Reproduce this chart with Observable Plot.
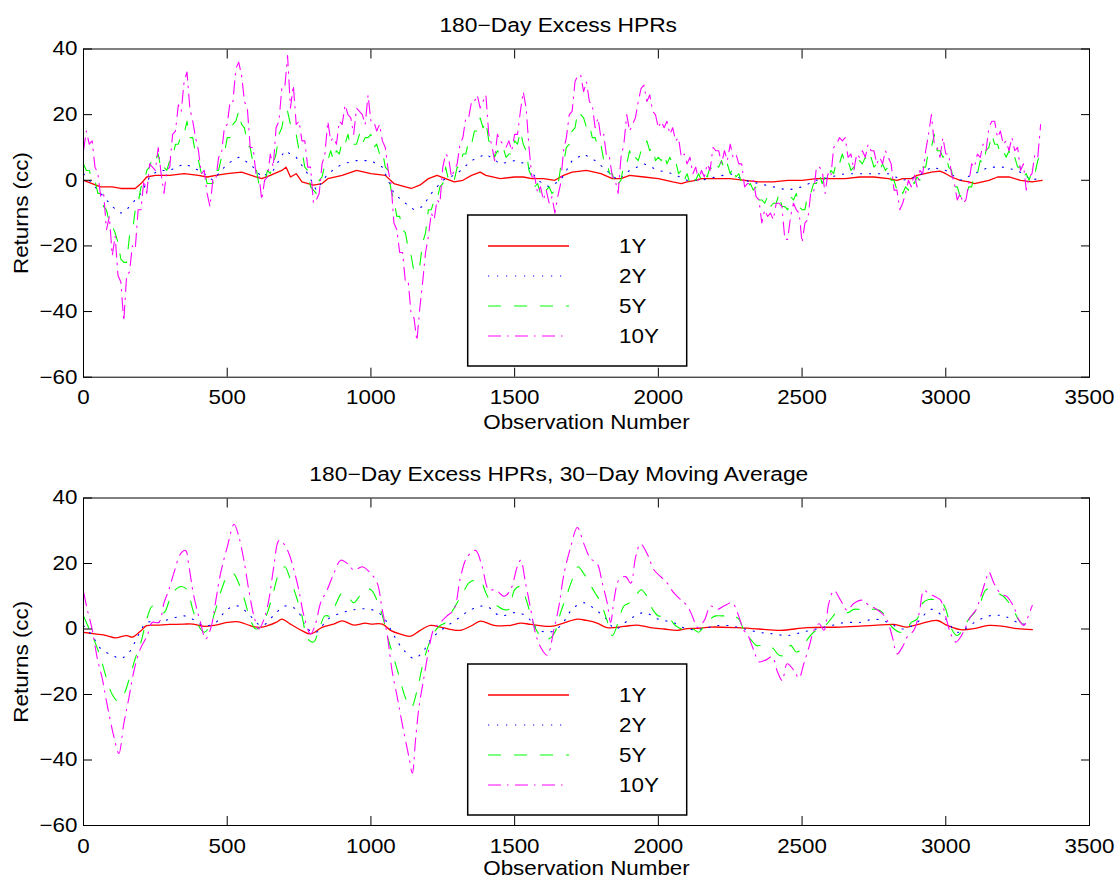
<!DOCTYPE html>
<html><head><meta charset="utf-8">
<script src="https://cdn.jsdelivr.net/npm/d3@7"></script>
<script src="https://cdn.jsdelivr.net/npm/@observablehq/plot@0.6"></script>
<style>
body{margin:0;background:#fff;width:1117px;overflow:hidden}
.title{height:40px;box-sizing:border-box;padding-top:15px;line-height:21px;text-align:center;font-family:'Liberation Sans',Arial,Helvetica,sans-serif;font-size:20px;color:#000}
.title span{display:inline-block;transform:scaleX(1.14)}
svg{display:block}
</style></head><body><div id="chart"></div><script>
// ---------- data ----------
const xTicks = [0, 500, 1000, 1500, 2000, 2500, 3000, 3500];
const yTicks = [-60, -40, -20, 0, 20, 40];
const seriesNames = ["1Y", "2Y", "5Y", "10Y"];

// top panel: 180-day excess HPRs (10Y and 5Y every 10 observations)
const topStepObs = d3.range(0, 3331, 10);
const top10Y = [
 9,15,11,12,4,2,-5,-4,-15,-11,
 -23,-17,-29,-31,-43,-29,-28,-20,-21,-9,
 -9,0,-4,5,4,3,10,2,-4,3,
 4,14,15,23,21,30,33,22,18,13,
 9,2,3,-4,-8,0,0,7,8,16,
 17,24,24,34,36,32,24,22,10,10,
 2,2,-6,0,1,8,4,16,18,28,
 28,38,22,29,17,18,12,12,4,4,
 -7,-6,-4,5,8,18,12,13,11,18,
 17,23,20,19,14,22,21,20,17,26,
 18,18,15,17,12,10,3,-1,-13,-15,
 -22,-22,-31,-31,-41,-42,-49,-39,-31,-22,
 -17,-10,-12,-6,-7,4,8,7,1,3,
 5,11,13,19,19,24,24,26,22,24,
 26,14,11,6,14,12,11,10,12,9,
 14,14,21,27,22,10,1,1,-4,-2,
 -6,-3,-7,-5,-10,-5,-1,9,13,20,
 21,30,32,32,27,30,24,23,16,19,
 13,14,7,7,1,0,-4,7,11,20,
 15,17,19,24,28,29,24,26,21,20,
 16,18,16,18,14,16,12,13,7,8,
 5,7,2,4,0,3,1,5,3,10,
 9,9,5,9,6,11,7,8,5,5,
 -2,-1,-1,0,-5,-6,-13,-9,-11,-10,
 -12,-7,-7,-8,-18,-18,-11,-7,-9,-10,
 -19,-13,-12,-4,-4,4,4,3,-4,2,
 1,10,11,13,12,13,7,8,3,8,
 7,9,7,11,9,9,5,7,5,9,
 7,5,-3,-3,-9,-7,-4,0,-2,2,
 -2,3,2,9,14,20,11,10,7,13,
 8,8,2,-1,-6,-4,-7,-6,-1,5,
 4,8,7,11,9,16,18,18,13,15,
 11,12,9,13,9,10,3,5,-3,1,
 2,8,7,17];
const top5Y = [
 5,3,3,0,0,-4,-4,-8,-9,-13,
 -14,-16,-19,-24,-25,-25,-17,-16,-9,-7,
 -2,-1,3,4,7,6,8,3,4,3,
 6,7,11,11,14,14,18,13,13,8,
 6,2,3,-1,-1,-1,3,3,7,8,
 13,13,17,18,21,17,16,11,10,5,
 4,-1,-1,-1,3,2,5,8,14,16,
 21,21,17,16,14,9,9,4,3,-2,
 -3,-4,0,1,5,6,9,6,9,8,
 12,11,14,10,11,11,14,11,13,13,
 14,10,11,8,9,4,3,-3,-6,-11,
 -11,-15,-16,-21,-23,-28,-27,-26,-19,-16,
 -9,-9,-6,-6,-2,-1,4,0,1,0,
 4,4,8,8,12,11,15,15,19,16,
 18,12,11,7,9,8,10,7,8,8,
 12,11,15,11,9,3,1,-2,-1,-4,
 -2,-3,-2,-4,-3,-2,4,5,10,11,
 15,16,21,20,19,16,17,13,13,10,
 11,6,6,2,2,-2,-1,0,5,5,
 9,6,7,6,9,9,12,9,10,6,
 7,6,8,5,7,5,6,2,3,0,
 2,-1,1,0,2,0,2,1,4,3,
 5,4,6,3,5,2,4,1,2,-1,
 -1,-2,-1,-3,-2,-6,-6,-7,-5,-8,
 -7,-7,-4,-8,-8,-9,-5,-6,-4,-8,
 -9,-9,-4,-4,-1,-1,2,-1,1,0,
 3,2,6,5,8,5,6,3,4,3,
 6,5,7,5,7,4,5,3,5,3,
 4,0,0,-3,-2,-4,-2,-3,0,-1,
 1,0,4,4,9,10,14,9,9,7,
 8,4,3,-2,-2,-5,-4,-5,-2,-2,
 2,2,6,5,9,10,14,11,11,8,
 9,7,9,6,7,4,4,1,2,0,
 3,2,6,8];
const top2YObs = [0,50,100,130,150,180,200,230,260,300,350,380,420,450,500,540,580,620,660,700,740,780,810,850,900,950,1000,1040,1080,1120,1150,1180,1210,1250,1300,1350,1400,1450,1500,1540,1580,1620,1660,1700,1740,1780,1820,1860,1900,1950,2000,2050,2100,2150,2200,2250,2300,2350,2400,2450,2500,2550,2600,2650,2700,2750,2800,2850,2900,2950,3000,3050,3100,3150,3200,3250,3300,3335];
const top2Y = [2,-3,-8,-10,-9,-6,-4,1,3,3,5,4,2,0,5,7,5,1,3,9,7,2,-3,2,5,6,6,4,-4,-7,-9,-8,-4,0,2,6,8,5,6,5,0,-2,0,6,8,6,3,0,3,5,3,2,0,0,1,2,0,-1,-2,-3,-2,0,1,2,2,2,2,0,1,4,3,0,2,4,4,3,0,1];
const top1YObs = [0,30,60,100,130,150,180,200,220,250,300,350,400,430,460,500,550,600,620,650,690,705,720,740,760,800,830,850,900,950,1000,1050,1080,1120,1140,1170,1200,1230,1260,1290,1320,1350,1380,1400,1450,1500,1530,1560,1600,1640,1670,1700,1750,1800,1840,1870,1900,1950,2000,2050,2080,2100,2130,2150,2200,2250,2300,2350,2400,2450,2500,2550,2600,2650,2700,2750,2800,2830,2850,2880,2900,2950,2980,3000,3020,3050,3080,3100,3150,3180,3220,3260,3300,3335];
const top1Y = [0,-1,-2,-2,-2.5,-2.5,-2.5,-1,1,1.5,1.5,2,1.5,1,1.5,2,2.5,1,0.5,1.5,3,4,1,2,-0.5,-1.5,-1,0.5,1.5,3,2,1.5,-1,-2,-2.5,-1.5,0.5,1.5,0.5,-0.5,0,1.5,2.5,1.5,0.5,1,1,0.5,0.5,0,1.5,2.5,3,2,0.5,0.5,1.5,1,0.5,-0.5,-1,-0.5,0,0.5,0.5,0.5,0,-0.5,-0.5,0,0,0.5,0.5,0.5,1,1,0.5,0,0.5,0.5,1.5,2.5,2.8,2,1,0,-0.5,-1,0,1,1,0,-0.5,0];

// bottom panel: 30-day moving average
const bot10YObs = [1,13,30,48,65,82,106,123,140,158,175,198,222,239,262,280,297,314,338,355,367,384,407,425,442,459,477,500,524,541,558,575,593,610,628,645,662,680,697,715,732,749,767,790,807,825,848,871,895,918,941,970,999,1022,1039,1057,1074,1092,1109,1132,1144,1155,1167,1184,1202,1219,1242,1265,1289,1312,1335,1364,1387,1410,1434,1463,1486,1509,1521,1538,1556,1573,1590,1613,1637,1654,1672,1695,1718,1741,1764,1787,1805,1822,1834,1846,1863,1886,1904,1921,1938,1961,1985,2008,2031,2054,2077,2101,2118,2136,2159,2182,2205,2228,2257,2275,2298,2309,2332,2350,2373,2396,2414,2431,2448,2472,2489,2506,2524,2541,2559,2576,2593,2611,2634,2657,2680,2709,2733,2756,2779,2796,2814,2831,2849,2866,2889,2907,2924,2941,2965,2982,3000,3017,3034,3052,3069,3086,3104,3121,3139,3150,3168,3191,3214,3237,3255,3272,3290,3301];
const bot10Y = [11,6,0,-9,-15,-23,-33,-38,-29,-21,-13,-6,-2,2,2,8,12,17,23,24,19,10,2,-3,0,8,17,25,32,28,21,12,4,0,3,9,19,27,26,23,18,12,4,-1.5,1.5,8,12,17,21,20,18,19,17,14,6,-2,-13,-21,-29,-39,-44,-34,-24,-15,-6,0,2,4,6,16,22,24,19,12,12,10,12,19,21,14,6,-1.5,-5.5,-8,0,7,17,25,31,26,21.5,20,14,8,2,9,15,16,14,22,26,23,18,16,14,11,9,7,4,0.5,2.5,7,6,7,8,5,-0.5,-1.5,-6.5,-10,-9.5,-8.5,-13,-15.7,-10.6,-12.7,-15,-10.6,-5.5,-0.5,1.6,-0.4,7.8,11.8,8.8,5.7,7.8,8.8,7.2,6.2,4.7,2.7,-2.4,-7.6,-5.5,-2.4,-0.4,4.7,11.8,10.8,9.8,8.8,3.7,-1.4,-4,-2.4,0.6,3.7,5.7,9.8,14.9,17.4,13.9,10.8,9.8,6.7,2.7,1.1,4.7,7.2];
const bot5YObs = d3.range(0, 3281, 20);
const bot5Y = [
 4,0,-4,-9,-15,-20,-22,-20,-15,-9,
 -4,3,7,6,5,9,12,13,12,6,
 1,-1,1,6,12,16,17,14,9,3,
 0,1,5,11,17,19,15,10,4,-3,
 -4,0,4,4,8,11,10,8,10,12,
 12,9,4,-3,-9,-15,-21,-24,-19,-11,
 -5,-1,1,2,5,8,11,14,15,15,
 11,8,7,6,6,12,13,9,3,-1,
 -3,-3,-1,5,10,15,19,17,14,11,
 8,3,-2,2,7,8,10,12,10,6,
 4,4,3,1,0,-1,0,-1,1,3,
 4,4,4,4,3,-1,-3,-5,-5,-5,
 -6,-8,-8,-5,-7,-6,-3,-1,0,1,
 3,5,5,5,6,6,6,6,6,5,
 2,0,-1,-1,2,3,8,9,9,9,
 6,0,-2,0,3,5,8,12,12,11,
 10,8,5,2,1];
const bot2YObs = [0,30,60,100,130,160,190,220,260,300,350,380,420,460,500,540,580,620,660,700,740,780,810,850,900,950,1000,1040,1080,1110,1150,1180,1210,1250,1300,1350,1400,1450,1500,1540,1580,1620,1660,1700,1740,1780,1820,1850,1900,1950,2000,2050,2100,2150,2200,2250,2300,2350,2400,2450,2500,2550,2600,2650,2700,2750,2800,2850,2900,2950,3000,3040,3100,3150,3200,3250,3300];
const bot2Y = [1,-2,-6,-8,-9,-7,-2,2,2,3,4,3,1,2,6,7,4,1,4,7,6,0,-1,3,5,6,6,4,-2,-6,-9,-7,-3,0,3,6,7,4,5,4,0,-1,1,6,8,6,3,0,3,5,3,2,0,0,1,1,0,-1,-1.5,-2,-1,0,1,2,2,3,2,0,2,6,3,-1,2,4,4,2,1];
const bot1YObs = [0,40,80,110,150,170,200,220,260,300,350,380,420,460,500,540,580,610,640,670,690,720,760,790,830,870,900,940,980,1000,1040,1070,1100,1138,1170,1207,1242,1280,1312,1350,1381,1428,1486,1521,1556,1625,1670,1718,1750,1787,1822,1880,1927,1973,2020,2066,2101,2136,2182,2275,2350,2425,2518,2634,2750,2820,2866,2912,2970,3005,3052,3098,3150,3202,3249,3301];
const bot1Y = [-1,-1.5,-2,-2.7,-2,-2.5,-0.5,1,1.2,1.4,1.5,1.5,0.8,1.2,2,2.2,1,0.5,1,2,3,1.5,-0.5,-1.5,0.5,1.5,2.5,1.2,1.8,1.5,1.5,-0.5,-1.5,-2.2,-0.5,1.1,0.6,-0.2,-0.4,1,2.4,1.1,1.1,1.8,1.4,0.8,1.8,3,2.6,1.8,0.4,0.8,1.2,0.4,0,-0.4,0.1,0.2,0.6,0.4,0,-0.4,0.4,0.6,1.1,1.4,0.6,1.6,2.6,1.1,-0.2,0.1,1.1,0.8,0.1,-0.2];

// ---------- style ----------
const FONT = "'Liberation Sans', Arial, Helvetica, sans-serif";
const SX = 1.12;
const colors = ["#ff0000", "#0000ff", "#00ff00", "#ff00ff"];
const dashes = [null, "1.2,7.8", "13,13", "13,6,1.5,6.5"];
const widths = [1.3, 1.1, 1.1, 1.1];

const rows = (obs, vals) => vals.map((v, i) => ({obs: obs[i], v}));
const fmtY = d => d < 0 ? "\u2212" + Math.abs(d) : String(d);

function stretchTexts(svg) {
  svg.querySelectorAll("text").forEach(t => {
    const tr = t.getAttribute("transform");
    if (tr) t.setAttribute("transform", tr + ` scale(${SX},1)`);
    else {
      const x = +(t.getAttribute("x") || 0), y = +(t.getAttribute("y") || 0);
      t.removeAttribute("x"); t.removeAttribute("y");
      t.setAttribute("transform", `translate(${x},${y}) scale(${SX},1)`);
    }
  });
}

function addLegend(svg, boxTop) {
  const g = d3.select(svg).append("g");
  g.append("rect").attr("x", 467.7).attr("y", boxTop).attr("width", 219).attr("height", 151)
    .attr("fill", "#fff").attr("stroke", "#000").attr("stroke-width", 1.5);
  seriesNames.forEach((n, i) => {
    const y = boxTop + 31 + 30 * i;
    const l = g.append("line").attr("x1", 488).attr("x2", 569).attr("y1", y).attr("y2", y)
      .attr("stroke", colors[i]).attr("stroke-width", widths[i]);
    if (dashes[i]) l.attr("stroke-dasharray", dashes[i]);
    g.append("text").attr("transform", `translate(619,${y + 7}) scale(${SX},1)`)
      .attr("text-anchor", "start")
      .attr("font-family", FONT).attr("font-size", 20).attr("fill", "#000").text(n);
  });
}

function panel(title, data, height, marginBottom, xLabelOffset, curve) {
  const root = document.getElementById("chart");
  const t = document.createElement("div");
  t.className = "title";
  const s = document.createElement("span");
  s.textContent = title;
  t.appendChild(s);
  root.appendChild(t);
  const marks = [
    ...data.map((d, i) => Plot.line(d, {x: "obs", y: "v", stroke: colors[i], strokeWidth: widths[i], curve,
      ...(dashes[i] ? {strokeDasharray: dashes[i]} : {})})),
    Plot.frame({stroke: "#000", strokeWidth: 1}),
    Plot.axisX(xTicks, {anchor: "bottom", tickSize: -9, tickFormat: () => "", label: null}),
    Plot.axisX(xTicks, {anchor: "top", tickSize: -9, tickFormat: () => "", label: null}),
    Plot.axisY(yTicks, {anchor: "left", tickSize: -9, tickFormat: () => "", label: null}),
    Plot.axisY(yTicks, {anchor: "right", tickSize: -9, tickFormat: () => "", label: null}),
    Plot.axisX(xTicks, {anchor: "bottom", tickSize: 0, tickPadding: 13, tickFormat: d => String(d),
      label: "Observation Number", labelAnchor: "center", labelOffset: xLabelOffset, labelArrow: "none"}),
    Plot.axisY(yTicks, {anchor: "left", tickSize: 0, tickPadding: 6, tickFormat: fmtY,
      label: "Returns (cc)", labelAnchor: "center", labelOffset: 70, labelArrow: "none"})
  ];
  const svg = Plot.plot({
    width: 1117, height, marginLeft: 83, marginRight: 28, marginTop: 8.5, marginBottom,
    x: {domain: [0, 3500]}, y: {domain: [-60, 40]},
    style: {fontFamily: FONT, fontSize: "20px", color: "#000", background: "#fff", overflow: "visible"},
    marks
  });
  stretchTexts(svg);
  addLegend(svg, 175);
  root.appendChild(svg);
}

panel("180\u2212Day Excess HPRs",
  [rows(top1YObs, top1Y), rows(top2YObs, top2Y), rows(topStepObs, top5Y), rows(topStepObs, top10Y)],
  409, 72.3, 52, "linear");
panel("180\u2212Day Excess HPRs, 30\u2212Day Moving Average",
  [rows(bot1YObs, bot1Y), rows(bot2YObs, bot2Y), rows(bot5YObs, bot5Y), rows(bot10YObs, bot10Y)],
  390, 54, 49, "catmull-rom");
</script></body></html>
